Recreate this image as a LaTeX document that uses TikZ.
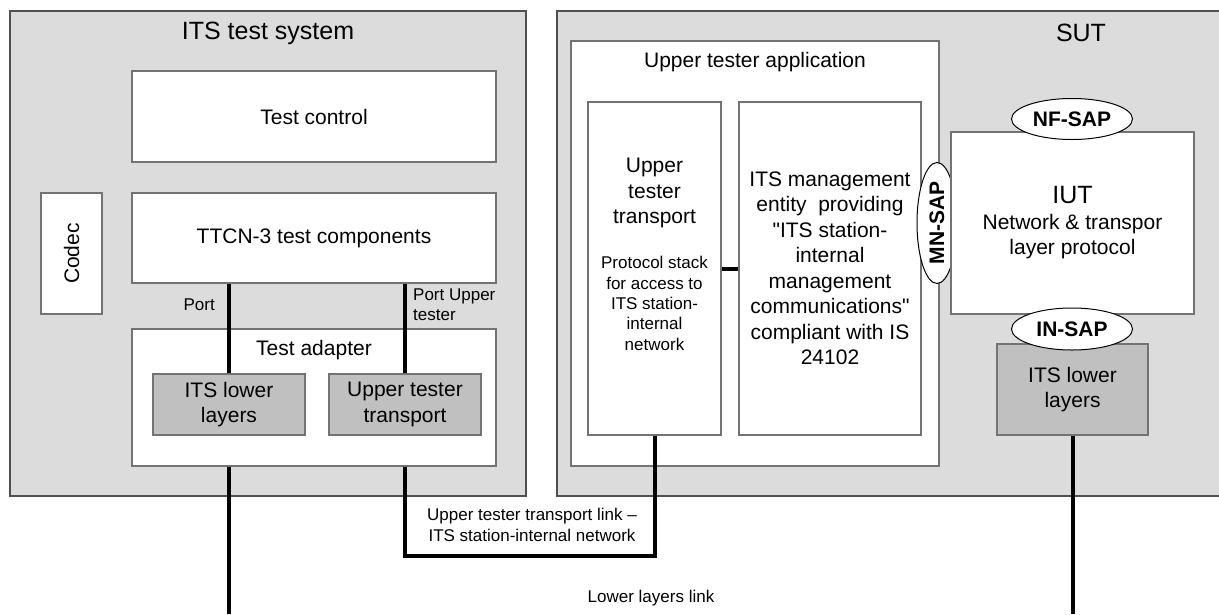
\documentclass[tikz,border=0pt]{standalone}
\usepackage{fontspec}
\setmainfont{Liberation Sans}
\usepackage{xcolor}
\usetikzlibrary{shapes.geometric}

\definecolor{panelgray}{HTML}{DCDCDC}
\definecolor{layergray}{HTML}{C0C0C0}
\definecolor{edgegray}{HTML}{505050}
\newcommand{\bigtxt}{\fontsize{21}{25.5}\selectfont}
\newcommand{\smalltxt}{\fontsize{17}{20.3}\selectfont}

\begin{document}
\begin{tikzpicture}[
    x=1pt, y=-1pt,
    panel/.style={rectangle, draw=edgegray, line width=1.5pt, fill=panelgray, inner sep=0pt},
    box/.style={rectangle, draw=edgegray!80, line width=1.1pt, fill=white, inner sep=0pt, font=\bigtxt, align=center},
    layerbox/.style={box, fill=layergray},
    sap/.style={ellipse, draw=black, line width=1pt, fill=white, inner sep=0pt, minimum width=121pt, minimum height=41pt, font=\bigtxt\bfseries},
    title/.style={font=\fontsize{25}{30}\selectfont, inner sep=0pt},
    note/.style={font=\smalltxt, align=center, inner sep=0pt},
    link/.style={line width=4pt}
]
    \useasboundingbox (0,0) rectangle (1219,614);

    % test system side
    \node[panel, minimum width=516pt, minimum height=485pt] (its) at (268,253.5) {};
    \node[title] (itstitle) at (268,33) {ITS test system};
    \node[box, minimum width=364pt, minimum height=91pt] (testctrl) at (314,116.5) {Test control};
    \node[box, minimum width=364pt, minimum height=90pt] (ttcn) at (314,238) {TTCN-3 test components};
    \node[box, minimum width=61pt, minimum height=121pt] (codec) at (71.5,253.5) {};
    \node[font=\bigtxt, rotate=90] (codectext) at (codec) {Codec};
    \node[box, minimum width=364pt, minimum height=137pt] (adapter) at (314,397.5) {};
    \node[font=\bigtxt, inner sep=0pt] (adaptertitle) at (314,350) {Test adapter};
    \node[layerbox, minimum width=152pt, minimum height=61pt] (lowerL) at (229,404.5) {ITS lower\\layers};
    \node[layerbox, minimum width=152pt, minimum height=61pt] (utL) at (405,404.5) {Upper tester\\transport};
    \node[note, anchor=east] (portlbl) at (215,305) {Port};
    \node[note, anchor=west, align=left] (utportlbl) at (413,305) {Port Upper\\tester};

    % system under test side
    \node[panel, minimum width=672pt, minimum height=485pt] (sut) at (893,253.5) {};
    \node[title] (suttitle) at (1081,33) {SUT};
    \node[box, minimum width=368pt, minimum height=425pt] (uta) at (755,253.5) {};
    \node[font=\bigtxt, inner sep=0pt] (utatitle) at (755,62) {Upper tester application};
    \node[box, minimum width=133pt, minimum height=333pt] (utR) at (654.5,268.5) {};
    \node[font=\bigtxt, align=center, inner sep=0pt] (utRhead) at (654.5,193) {Upper\\tester\\transport};
    \node[note] (utRnote) at (654.5,303.5) {Protocol stack\\for access to\\ITS station-\\internal\\network};
    \node[box, minimum width=182pt, minimum height=333pt] (mgmt) at (830,268.5) {ITS management\\entity\ \ providing\\\textquotedbl ITS station-\\internal\\management\\communications\textquotedbl\\compliant with IS\\24102};
    \node[sap, rotate=90, minimum height=40pt] (mnsap) at (937,223) {MN-SAP};
    \node[box, minimum width=243pt, minimum height=182pt] (iut) at (1072.5,223) {{\fontsize{25}{28}\selectfont IUT}\\Network \& transpor\\layer protocol};
    \node[sap] (nfsap) at (1072,119) {NF-SAP};
    \node[layerbox, minimum width=151pt, minimum height=91pt] (lowerR) at (1072.5,389.5) {ITS lower\\layers};
    \node[sap, minimum height=42pt] (insap) at (1072,329) {IN-SAP};

    % links
    \coordinate (llend) at (229,614);
    \coordinate (utlinkmid) at (530,556);
    \draw[link] (lowerL.north) -- (lowerL.north |- ttcn.south);
    \draw[link] (utL.north) -- (utL.north |- ttcn.south);
    \draw[link] (utR.east) -- (mgmt.west);
    \draw[link] (adapter.south -| lowerL.south) -- (llend);
    \draw[link] (lowerR.south) -- (lowerR.south |- llend);
    \draw[link] (adapter.south -| utL.south) |- (utlinkmid) -| (utR.south);
    \node[note] (utlinklbl) at (532,525) {Upper tester transport link --\\ITS station-internal network};
    \node[note] (lllbl) at (651,598) {Lower layers link};
\end{tikzpicture}
\end{document}
